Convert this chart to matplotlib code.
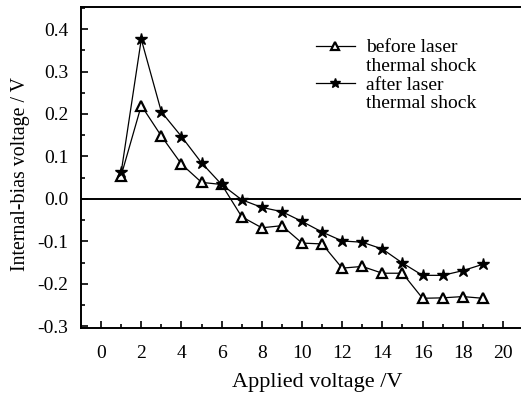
import matplotlib
matplotlib.use("Agg")
import matplotlib.pyplot as plt
from matplotlib.lines import Line2D
from matplotlib.ticker import MultipleLocator

plt.rcParams['font.family'] = ['Liberation Serif', 'DejaVu Serif']

# applied voltage (V)
voltage = [1, 2, 3, 4, 5, 6, 7, 8, 9, 10, 11, 12, 13, 14, 15, 16, 17, 18, 19]
# internal-bias voltage before / after laser thermal shock
before_shock = [0.055, 0.220, 0.148, 0.082, 0.039, 0.034, -0.042, -0.068, -0.063, -0.104,
                -0.106, -0.163, -0.159, -0.175, -0.175, -0.234, -0.233, -0.230, -0.234]
after_shock = [0.063, 0.376, 0.205, 0.147, 0.085, 0.034, -0.002, -0.020, -0.030, -0.053,
               -0.078, -0.099, -0.102, -0.118, -0.151, -0.180, -0.180, -0.169, -0.154]
labels = [["before laser", "thermal shock"], ["after laser", "thermal shock"]]

fig = plt.figure(figsize=(5.21, 3.94), dpi=100)
ax = fig.add_axes([81 / 521, 1 - 328 / 394, (523 - 81) / 521, (328 - 7) / 394])

l1, = ax.plot(voltage, before_shock, color='black', lw=0.9, marker='^', markersize=6.5,
              markerfacecolor='white', markeredgecolor='black', markeredgewidth=1.6)
l2, = ax.plot(voltage, after_shock, color='black', lw=0.9, marker='*', markersize=9,
              markerfacecolor='black', markeredgecolor='black')
ax.axhline(0, color='black', lw=1.4)

ax.set_xlim(-1, 21)
ax.set_ylim(-0.304, 0.452)
ax.xaxis.set_major_locator(MultipleLocator(2))
ax.xaxis.set_minor_locator(MultipleLocator(1))
ax.yaxis.set_major_locator(MultipleLocator(0.1))
ax.yaxis.set_minor_locator(MultipleLocator(0.05))
ax.tick_params(which='both', direction='in', top=False, right=False, labelsize=14, width=1.2)
ax.tick_params(which='major', length=5)
ax.tick_params(which='minor', length=3)
ax.tick_params(axis='x', pad=12)
ax.tick_params(axis='y', pad=9)
ax.yaxis.set_major_formatter(plt.FuncFormatter(lambda v, p: "%.1f" % v))
for s in ax.spines.values():
    s.set_linewidth(1.4)

ax.set_xlabel("Applied voltage /V", fontsize=16)
ax.set_ylabel("Internal-bias voltage / V", fontsize=14.3)
ax.xaxis.set_label_coords(0.534, -0.14)
ax.yaxis.set_label_coords(-0.115, 0.48)

# two-line labels: handle on first line only
blank = Line2D([], [], color='none')
ax.legend([l1, blank, l2, blank],
          [labels[0][0], labels[0][1], labels[1][0], labels[1][1]],
          loc='upper left', bbox_to_anchor=(306 / 521, 1 - 29 / 394),
          bbox_transform=fig.transFigure, frameon=False, fontsize=14,
          handlelength=2.0, handletextpad=0.6, labelspacing=0.05, borderpad=0,
          markerscale=0.8)

fig.savefig("out.png", dpi=100)
